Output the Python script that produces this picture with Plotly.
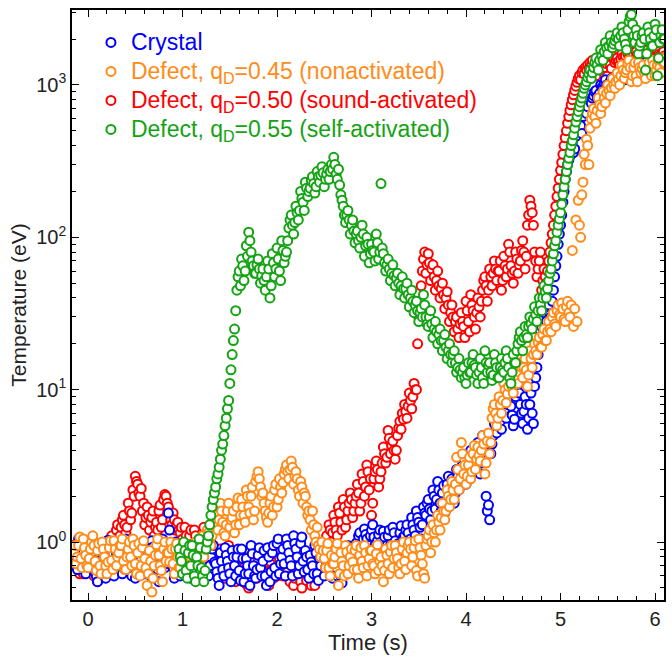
import numpy as np
import plotly.graph_objects as go

# sampling grid of the time axis (s): -0.150 ... 6.100, step 0.0125
TIME = np.round(-0.15 + 0.0125 * np.arange(501), 4)

CRYSTAL = [
    0.95, 0.85, 0.78, 0.66, 1.05, 0.9, 0.7, 0.82, 0.88, 1.0, 0.62, 0.75, 0.92, 0.68, 0.8, 0.97, 1.02, 0.86, 0.72, 0.6,
    0.55, 0.7, 0.85, 0.93, 0.98, 0.8, 0.68, 0.58, 0.9, 1.03, 0.75, 0.66, 1.0, 0.84, 0.6, 0.72, 0.82, 0.9, 0.95, 0.78,
    0.7, 0.62, 0.88, 0.98, 1.05, 0.9, 0.65, 0.74, 0.8, 0.6, 0.92, 1.0, 0.58, 0.7, 0.85, 0.95, 0.75, 0.64, 1.0, 0.86,
    0.62, 0.7, 0.9, 0.82, 0.78, 0.6, 1.02, 0.93, 0.7, 0.8, 0.86, 0.66, 0.55, 0.72, 0.95, 1.05, 0.8, 0.68, 0.72, 0.88,
    1.55, 1.2, 0.9, 0.78, 0.68, 0.58, 1.0, 0.9, 0.82, 0.66, 0.6, 0.74, 0.88, 0.98, 0.75, 0.62, 0.95, 0.82, 0.7, 0.58,
    0.85, 0.72, 0.65, 0.56, 0.92, 0.8, 0.78, 0.64, 1.0, 0.86, 0.7, 0.6, 0.88, 0.96, 0.6, 0.7, 0.8, 0.9, 0.95, 0.74,
    0.72, 0.64, 0.58, 0.52, 0.85, 0.75, 0.66, 0.6, 0.92, 0.82, 0.75, 0.68, 0.62, 0.55, 0.88, 0.8, 0.7, 0.6, 0.8, 0.9,
    0.65, 0.56, 0.9, 0.78, 0.55, 0.62, 0.78, 0.7, 0.62, 0.52, 0.95, 0.84, 0.7, 0.6, 0.58, 0.66, 0.82, 0.92, 0.68, 0.6,
    0.75, 0.88, 0.6, 0.52, 0.92, 0.8, 0.55, 0.64, 0.85, 0.95, 0.68, 0.6, 0.98, 1.05, 0.62, 0.72, 0.8, 0.9, 0.72, 0.6,
    1.05, 0.95, 0.85, 0.76, 0.7, 0.6, 1.1, 0.98, 0.9, 0.8, 0.62, 0.7, 0.98, 1.08, 0.75, 0.64, 0.88, 0.8, 0.66, 0.58,
    0.82, 0.74, 0.7, 0.62, 0.95, 0.85, 0.62, 0.56, 0.78, 0.7, 0.88, 0.96, 0.6, 0.68, 0.72, 0.82, 0.85, 0.76, 0.65, 0.58,
    0.78, 0.7, 0.68, 0.6, 0.9, 0.8, 0.6, 0.54, 0.82, 0.92, 0.72, 0.64, 0.95, 0.85, 0.66, 0.75, 0.8, 0.92, 0.88, 0.98,
    1.0, 1.1, 1.15, 0.98, 0.9, 1.05, 1.22, 1.12, 1.05, 0.92, 0.95, 1.1, 1.2, 1.3, 1.08, 0.96, 0.92, 1.02, 1.12, 1.2,
    1.0, 0.9, 1.18, 1.08, 0.88, 0.95, 1.1, 1.2, 0.95, 0.86, 1.25, 1.15, 1.02, 0.92, 0.85, 0.98, 1.15, 1.28, 0.98, 1.08,
    1.1, 1.2, 1.3, 1.15, 0.95, 1.05, 1.45, 1.3, 1.2, 1.1, 1.6, 1.45, 1.35, 1.25, 1.05, 1.3, 1.7, 1.55, 1.5, 1.8,
    1.9, 1.65, 1.4, 1.6, 2.2, 2.0, 1.65, 1.9, 2.5, 2.2, 1.8, 1.6, 2.1, 2.35, 1.55, 1.85, 2.4, 2.7, 2.0, 2.25,
    2.6, 2.3, 1.8, 2.1, 3.0, 2.7, 2.2, 2.5, 2.8, 3.2, 3.5, 3.0, 2.4, 2.75, 3.2, 3.7, 4.0, 3.5, 2.9, 3.3,
    3.6, 4.1, 4.5, 3.8, 2.8, 3.3, 5.0, 4.4, 3.9, 2.0, 1.6, 1.75, 1.4, 3.8, 4.4, 5.0, 6.0, 5.4, 5.2, 6.5,
    7.0, 6.2, 5.5, 6.8, 8.5, 7.5, 6.5, 8.0, 10.0, 9.0, 7.8, 6.8, 5.8, 6.4, 9.0, 10.5, 11.0, 9.5, 8.0, 7.0,
    6.0, 7.2, 9.0, 8.0, 5.5, 6.5, 8.0, 9.5, 7.0, 6.0, 10.5, 12.0, 14.0, 17.0, 20.0, 24.0, 26.0, 23.0, 32.0, 36.0,
    28, 33, 36, 31, 30, 38, 45, 55, 65, 75, 90, 105, 120, 140, 170, 200, 240, 270, 300, 320,
    340, 380, 420, 360, 380, 460, 520, 560, 600, 540, 480, 620, 700, 760, 650, 720, 800, 860, 760, 820,
    850, 900, 920, 840, 780, 880, 1000, 960, 950, 1020, 1080, 1000, 900, 980, 1050, 1100, 980, 1040, 1120, 1060,
    1000, 1080, 1150, 1200, 1250, 1150, 1080, 1180, 1200, 1280, 1300, 1220, 1100, 1250, 1350, 1280, 1180, 1120, 1250, 1320,
    1300, 1220, 1150, 1250, 1400, 1320, 1250, 1180, 1350, 1420, 1200, 1300, 1450, 1380, 1300, 1250, 1380, 1450, 1250, 1320,
    1400,
]

DEFECT_045 = [
    0.85, 0.95, 0.72, 0.8, 0.95, 1.08, 0.78, 0.68, 1.05, 0.92, 0.82, 0.7, 0.68, 0.78, 0.9, 1.0, 1.1, 0.95, 0.75, 0.65,
    0.88, 0.98, 0.7, 0.62, 1.0, 0.9, 0.8, 0.7, 0.62, 0.74, 0.92, 1.02, 0.76, 0.66, 1.02, 0.9, 0.7, 0.8, 0.85, 0.95,
    0.95, 1.05, 0.75, 0.66, 0.66, 0.8, 0.9, 1.0, 0.8, 0.7, 1.05, 0.95, 0.72, 0.62, 0.85, 0.98, 0.6, 0.7, 0.92, 1.02,
    0.78, 0.68, 0.52, 0.62, 0.88, 0.75, 0.47, 0.58, 0.7, 0.82, 0.96, 1.05, 0.82, 0.7, 0.65, 0.55, 0.9, 1.0, 0.75, 0.85,
    0.85, 0.74, 1.0, 0.9, 0.72, 0.62, 0.9, 0.98, 0.8, 0.68, 0.68, 0.78, 0.95, 0.86, 0.78, 0.7, 0.88, 0.96, 0.7, 0.8,
    0.82, 0.9, 0.92, 1.0, 0.75, 0.85, 0.86, 0.78, 0.98, 1.1, 0.8, 0.9, 1.05, 1.2, 1.15, 1.0, 0.95, 1.1, 1.3, 1.45,
    1.5, 1.3, 1.2, 1.4, 1.8, 1.6, 1.35, 1.15, 1.1, 1.3, 1.6, 1.8, 1.25, 1.4, 1.45, 1.6, 1.15, 1.3, 1.7, 1.95,
    1.3, 1.5, 1.9, 1.7, 1.5, 1.35, 2.2, 2.0, 1.7, 1.55, 2.0, 2.3, 1.4, 1.6, 2.5, 2.7, 2.9, 2.6, 2.3, 2.0,
    2.1, 1.8, 1.6, 1.45, 1.35, 1.55, 1.8, 2.0, 1.5, 1.7, 2.2, 2.4, 1.7, 1.9, 2.6, 2.3, 2.1, 2.45, 2.8, 3.0,
    3.2, 2.9, 2.6, 3.0, 3.4, 3.1, 2.4, 2.7, 2.9, 2.6, 2.2, 2.0, 2.5, 2.3, 1.8, 2.1, 2.0, 1.7, 1.5, 1.6,
    1.4, 1.2, 1.6, 1.3, 1.1, 1.0, 1.25, 0.95, 0.9, 0.8, 1.0, 0.88, 0.78, 0.68, 0.88, 0.98, 0.68, 0.6, 0.82, 0.72,
    0.72, 0.8, 0.9, 0.98, 0.52, 0.62, 0.85, 0.75, 0.7, 0.6, 0.95, 0.86, 0.62, 0.7, 0.8, 0.9, 0.74, 0.66, 0.88, 0.95,
    0.66, 0.58, 0.82, 0.92, 0.75, 0.68, 0.95, 0.85, 0.6, 0.7, 0.78, 0.88, 0.88, 0.72, 0.7, 0.62, 0.84, 0.96, 0.65, 0.75,
    0.8, 0.7, 0.55, 0.65, 0.9, 0.82, 0.72, 0.62, 0.86, 0.95, 0.68, 0.78, 0.95, 0.85, 0.78, 0.68, 0.62, 0.72, 0.9, 1.0,
    0.75, 0.66, 0.85, 0.95, 1.0, 0.9, 0.7, 0.8, 0.92, 1.02, 0.65, 0.6, 1.05, 0.92, 0.82, 0.72, 0.62, 0.58, 0.95, 1.05,
    1.1, 1.2, 0.85, 1.0, 1.3, 1.15, 1.0, 1.2, 1.5, 1.35, 1.2, 1.45, 1.8, 1.6, 1.4, 1.6, 2.2, 2.0, 1.7, 1.9,
    2.5, 2.2, 1.9, 2.4, 3.6, 3.0, 2.2, 2.6, 4.5, 3.8, 2.8, 3.2, 2.4, 2.7, 3.2, 3.6, 2.6, 2.9, 3.8, 4.3,
    3.0, 3.5, 4.2, 3.7, 3.4, 4.0, 5.0, 4.4, 2.8, 3.3, 4.6, 5.2, 3.8, 4.5, 6.5, 7.5, 8.0, 7.0, 5.8, 6.5,
    9.0, 8.0, 7.0, 8.5, 11.0, 10.0, 8.2, 9.4, 10.5, 12.5, 12.0, 10.5, 9.5, 11.0, 13.5, 12.0, 11.0, 13.0, 15.0, 14.0,
    12.0, 14.0, 16.0, 13.5, 10.5, 12.5, 18.0, 16.0, 14.0, 17.0, 20.0, 18.0, 17.0, 20.5, 22.0, 19.0, 19.0, 23.0, 25.0, 21.0,
    21.0, 24.0, 28.0, 25.0, 24.0, 30.0, 32.0, 27.0, 26.0, 33.0, 36.0, 31.0, 30.0, 37.0, 34.0, 29.0, 28.0, 35.0, 38.0, 32.0,
    30, 36, 82, 26, 34, 130, 28, 175, 120, 100, 190, 230, 350, 300, 440, 400, 300, 520, 600, 650,
    700, 620, 560, 680, 820, 740, 650, 720, 900, 820, 760, 880, 1000, 920, 850, 960, 1100, 1000, 950, 1050,
    1200, 1080, 1000, 1150, 1350, 1250, 1100, 1200, 1250, 1380, 1450, 1300, 1050, 1150, 1300, 1400, 1150, 1050, 1400, 1300,
    1200, 1280, 1350, 1200, 1100, 1250, 1300, 1400, 1250, 1150, 1450, 1350, 1150, 1250, 1350, 1450, 1300, 1200, 1500, 1400,
    1400,
]

DEFECT_050 = [
    0.8, 0.72, 0.9, 0.82, 0.7, 0.62, 0.85, 0.95, 0.62, 0.7, 0.95, 0.85, 0.78, 0.68, 0.88, 0.98, 0.72, 0.6, 0.82, 0.9,
    0.55, 0.65, 0.9, 0.8, 0.75, 0.85, 0.98, 0.88, 0.68, 0.78, 0.85, 0.95, 1.1, 1.0, 0.8, 0.9, 1.2, 1.3, 1.0, 1.1,
    1.25, 1.4, 1.5, 1.3, 1.15, 1.25, 1.8, 1.6, 1.4, 1.55, 2.2, 2.0, 2.7, 2.5, 2.4, 2.1, 2.0, 2.25, 1.6, 1.8,
    1.3, 1.45, 1.7, 1.5, 1.2, 1.35, 1.45, 1.6, 1.1, 1.25, 1.35, 1.2, 1.6, 1.75, 1.25, 1.4, 1.9, 2.05, 2.0, 1.8,
    1.7, 1.55, 1.4, 1.3, 1.55, 1.4, 1.2, 1.3, 1.35, 1.2, 1.15, 1.25, 1.05, 0.95, 1.25, 1.1, 0.9, 1.0, 1.1, 1.2,
    0.95, 0.85, 1.2, 1.1, 0.85, 0.95, 1.05, 0.92, 0.75, 0.85, 1.25, 1.1, 0.9, 1.0, 0.8, 0.7, 1.0, 0.9, 0.7, 0.8,
    0.78, 0.7, 0.65, 0.72, 0.9, 0.8, 0.72, 0.62, 0.58, 0.66, 0.85, 0.95, 0.68, 0.75, 0.8, 0.7, 0.6, 0.55, 0.75, 0.85,
    0.7, 0.78, 0.62, 0.55, 0.8, 0.7, 0.53, 0.6, 0.5, 0.58, 0.72, 0.82, 0.88, 0.76, 0.66, 0.58, 0.78, 0.86, 0.6, 0.68,
    0.7, 0.62, 0.82, 0.74, 0.58, 0.52, 0.75, 0.85, 0.65, 0.58, 0.9, 0.8, 0.6, 0.68, 0.78, 0.88, 0.68, 0.6, 0.85, 0.75,
    0.72, 0.64, 0.6, 0.55, 0.8, 0.7, 0.52, 0.58, 0.68, 0.78, 0.75, 0.62, 0.55, 0.5, 0.82, 0.74, 0.62, 0.56, 0.7, 0.8,
    0.6, 0.52, 0.78, 0.68, 0.52, 0.6, 0.7, 0.8, 0.85, 0.75, 0.65, 0.72, 0.9, 1.0, 1.1, 0.95, 1.3, 1.2, 1.0, 1.15,
    1.5, 1.35, 1.2, 1.1, 1.7, 1.55, 1.35, 1.2, 1.9, 1.7, 1.25, 1.4, 1.6, 1.8, 2.1, 1.9, 1.45, 1.6, 1.8, 2.0,
    2.4, 2.1, 1.6, 1.8, 2.8, 2.5, 2.0, 2.3, 3.2, 2.9, 2.2, 2.6, 1.5, 1.8, 2.6, 2.9, 3.4, 3.0, 2.3, 2.6,
    2.9, 3.3, 4.2, 3.8, 3.3, 3.6, 5.4, 4.8, 3.8, 4.3, 4.6, 4.0, 3.5, 4.0, 5.0, 5.6, 6.2, 5.5, 7.0, 6.4,
    8.0, 7.2, 6.5, 7.8, 9.5, 8.5, 7.5, 9.0, 11.0, 10.0, 10.0, 20.0, 30.0, 38.0, 48.0, 60.0, 72.0, 80.0, 58.0, 66.0,
    78, 68, 52, 62, 66, 55, 45, 52, 60, 48, 40, 46, 50, 42, 34, 40, 44, 36, 28, 32,
    36, 30, 24, 28, 30, 25, 22, 27, 32, 28, 26, 22, 38, 33, 28, 24, 42, 36, 33, 30,
    25, 32, 40, 35, 30, 38, 45, 52, 55, 48, 38, 45, 62, 55, 48, 58, 70, 62, 52, 60,
    60, 70, 45, 52, 75, 65, 55, 62, 90, 80, 65, 58, 50, 60, 80, 72, 58, 66, 70, 82,
    95, 80, 62, 75, 120, 140, 175, 160, 145, 120, 80, 70, 55, 62, 70, 80, 45, 52, 62, 55,
    50, 60, 70, 80, 92, 105, 120, 140, 160, 185, 210, 240, 275, 310, 350, 400, 450, 500, 560, 620,
    680, 740, 800, 860, 920, 980, 1040, 1100, 1150, 1080, 1200, 1250, 1180, 1300, 1250, 1350, 1280, 1400, 1330, 1450,
    1300, 1220, 1150, 1280, 1400, 1320, 1250, 1350, 1500, 1420, 1300, 1380, 1450, 1550, 1350, 1280, 1550, 1480, 1400, 1450,
    1500, 1420, 1350, 1480, 1600, 1520, 1450, 1550, 1700, 1600, 1500, 1420, 1550, 1650, 1400, 1480, 1650, 1580, 1500, 1420,
    1550, 1480, 1650, 1600, 1450, 1520, 1700, 1620, 1500, 1420, 1600, 1680, 1450, 1520, 1650, 1580, 1550, 1480, 1600, 1650,
    1550,
]

_NONE20 = [None] * 20
DEFECT_055 = _NONE20 * 4 + [
    None, None, None, None, None, None, None, None, None, 0.9, 0.8, 0.75, 0.62, 1.0, 0.88, 0.65, 0.58, 0.85, 0.95, 0.7,
    0.95, 0.82, 0.6, 0.55, 0.8, 0.7, 1.05, 0.92, 0.68, 0.6, 0.55, 0.65, 0.9, 1.0, 1.1, 1.3, 1.5, 1.7, 1.9, 2.1,
    2.3, 2.6, 2.8, 3.1, 3.5, 4.0, 4.4, 5.0, 5.8, 6.5, 7.5, 8.5, 11.0, 13.5, 17.0, 21.0, 25.0, 33.0, 45.0, 55.0,
    60, 48, 72, 65, 52, 60, 88, 75, 108, 95, 80, 70, 65, 58, 58, 66, 72, 62, 50, 56,
    62, 52, 45, 55, 70, 62, 40, 48, 78, 68, 55, 62, 85, 72, 60, 52, 95, 82, 68, 75,
    80, 95, 115, 130, 140, 120, 105, 125, 160, 145, 130, 150, 200, 180, 170, 150, 230, 210, 185, 200,
    210, 235, 250, 225, 195, 215, 270, 250, 230, 255, 290, 265, 215, 240, 260, 280, 240, 270, 300, 280,
    335, 300, 260, 240, 280, 220, 190, 175, 160, 140, 125, 140, 150, 130, 105, 120, 130, 110, 92, 105,
    110, 95, 85, 100, 120, 105, 75, 88, 100, 90, 68, 78, 90, 82, 80, 70, 105, 92, 72, 80,
    225, 85, 78, 68, 60, 66, 72, 62, 52, 58, 66, 56, 48, 54, 58, 50, 42, 48, 55, 46,
    40, 46, 50, 42, 35, 40, 45, 38, 32, 36, 38, 33, 28, 32, 34, 30, 42, 36, 30, 27,
    26, 30, 33, 27, 22, 25, 28, 24, 20, 23, 25, 21, 18, 21, 23, 19, 16, 18, 20, 17,
    15, 17, 18, 15, 13, 14, 16, 13.5, 12, 13, 14, 12, 11, 12.5, 15, 13, 13, 15, 17, 14.5,
    14, 12.5, 11, 13, 16, 14, 12, 11, 18, 15, 13, 14.5, 15, 13, 11.5, 12.5, 17, 15, 14, 12,
    12, 14, 16, 13.5, 13, 15, 18, 16, 14, 12, 11, 13, 17, 15, 15, 18, 20, 22, 24, 21,
    18, 22, 26, 23, 22, 26, 30, 27, 25, 29, 35, 31, 28, 33, 40, 36, 33, 40, 48, 44,
    40, 46, 52, 58, 62, 70, 78, 88, 95, 108, 120, 132, 145, 165, 190, 215, 240, 270, 300, 330,
    360, 400, 430, 470, 520, 570, 620, 670, 720, 770, 820, 880, 950, 1000, 1050, 1120, 1180, 1250, 1100, 1200,
    1300, 1400, 1500, 1350, 1250, 1450, 1700, 1550, 1450, 1650, 1900, 1750, 1600, 1800, 2100, 1900, 1750, 1850, 1950, 2050,
    2200, 2000, 1800, 2100, 2400, 2200, 2000, 1850, 1700, 2300, 2600, 2800, 2900, 2500, 2100, 1900, 2300, 2100, 1600, 1800,
    1900, 2100, 2200, 2000, 1250, 1600, 2400, 2200, 2000, 1800, 1800, 2100, 2500, 2300, 1150, 1500, 1900, 2100, 2300, 2000,
    2000,
]

for _s in (CRYSTAL, DEFECT_045, DEFECT_050, DEFECT_055):
    assert len(_s) == len(TIME), len(_s)

SERIES = [
    # (name, values, colour, legend rank) ; drawn in this order
    ("Defect, q<sub>D</sub>=0.50 (sound-activated)", DEFECT_050, "#ff0000", 3),
    ("Crystal", CRYSTAL, "#0000ff", 1),
    ("Defect, q<sub>D</sub>=0.45 (nonactivated)", DEFECT_045, "#ff8c1a", 2),
    ("Defect, q<sub>D</sub>=0.55 (self-activated)", DEFECT_055, "#13a313", 4),
]

Y_TICKS = [1, 10, 100, 1000]
Y_TICKTEXT = ["10<sup>0</sup>", "10<sup>1</sup>", "10<sup>2</sup>", "10<sup>3</sup>"]
Y_MINOR = [0.5, 0.6, 0.7, 0.8, 0.9] + [m * d for d in (1, 10, 100) for m in range(2, 10)] + [2000, 3000]

FONT = "Liberation Sans, Arial, sans-serif"

fig = go.Figure()
for name, vals, col, rank in SERIES:
    fig.add_trace(go.Scatter(
        x=TIME, y=vals, mode="markers",
        name=f"<span style='color:{col};font-size:23px'>{name}</span>",
        legendrank=rank,
        marker=dict(symbol="circle", size=9, color="white",
                    line=dict(color=col, width=2)),
    ))

axis_common = dict(
    showline=True, linecolor="black", linewidth=1.5, mirror="allticks",
    ticks="inside", ticklen=7, tickwidth=1.2, tickcolor="black",
    showgrid=False, zeroline=False, automargin=False,
    tickfont=dict(family=FONT, size=20, color="#222"),
)

fig.update_xaxes(
    range=[-0.17, 6.095], dtick=1, tick0=0,
    title=dict(text="Time (s)", font=dict(family=FONT, size=22, color="#222"), standoff=4),
    minor=dict(dtick=0.2, ticks="inside", ticklen=4, tickcolor="black", showgrid=False),
    **axis_common,
)
fig.update_yaxes(
    type="log", range=[np.log10(0.417), np.log10(3100)],
    tickvals=Y_TICKS, ticktext=Y_TICKTEXT,
    title=dict(text="Temperature (eV)", font=dict(family=FONT, size=21, color="#222"), standoff=4),
    minor=dict(tickvals=Y_MINOR, ticks="inside", ticklen=4, tickcolor="black", showgrid=False),
    **axis_common,
)

fig.update_layout(
    width=672, height=657,
    margin=dict(l=72, r=8, t=10, b=57),
    plot_bgcolor="white", paper_bgcolor="white",
    font=dict(family=FONT, size=20),
    legend=dict(x=0.032, y=0.978, xanchor="left", yanchor="top",
                bgcolor="rgba(0,0,0,0)", font=dict(family=FONT, size=20),
                itemwidth=30),
    showlegend=True,
)

fig.write_html("out.html", config={"displayModeBar": False},
               post_script="document.body.style.margin='0';")
